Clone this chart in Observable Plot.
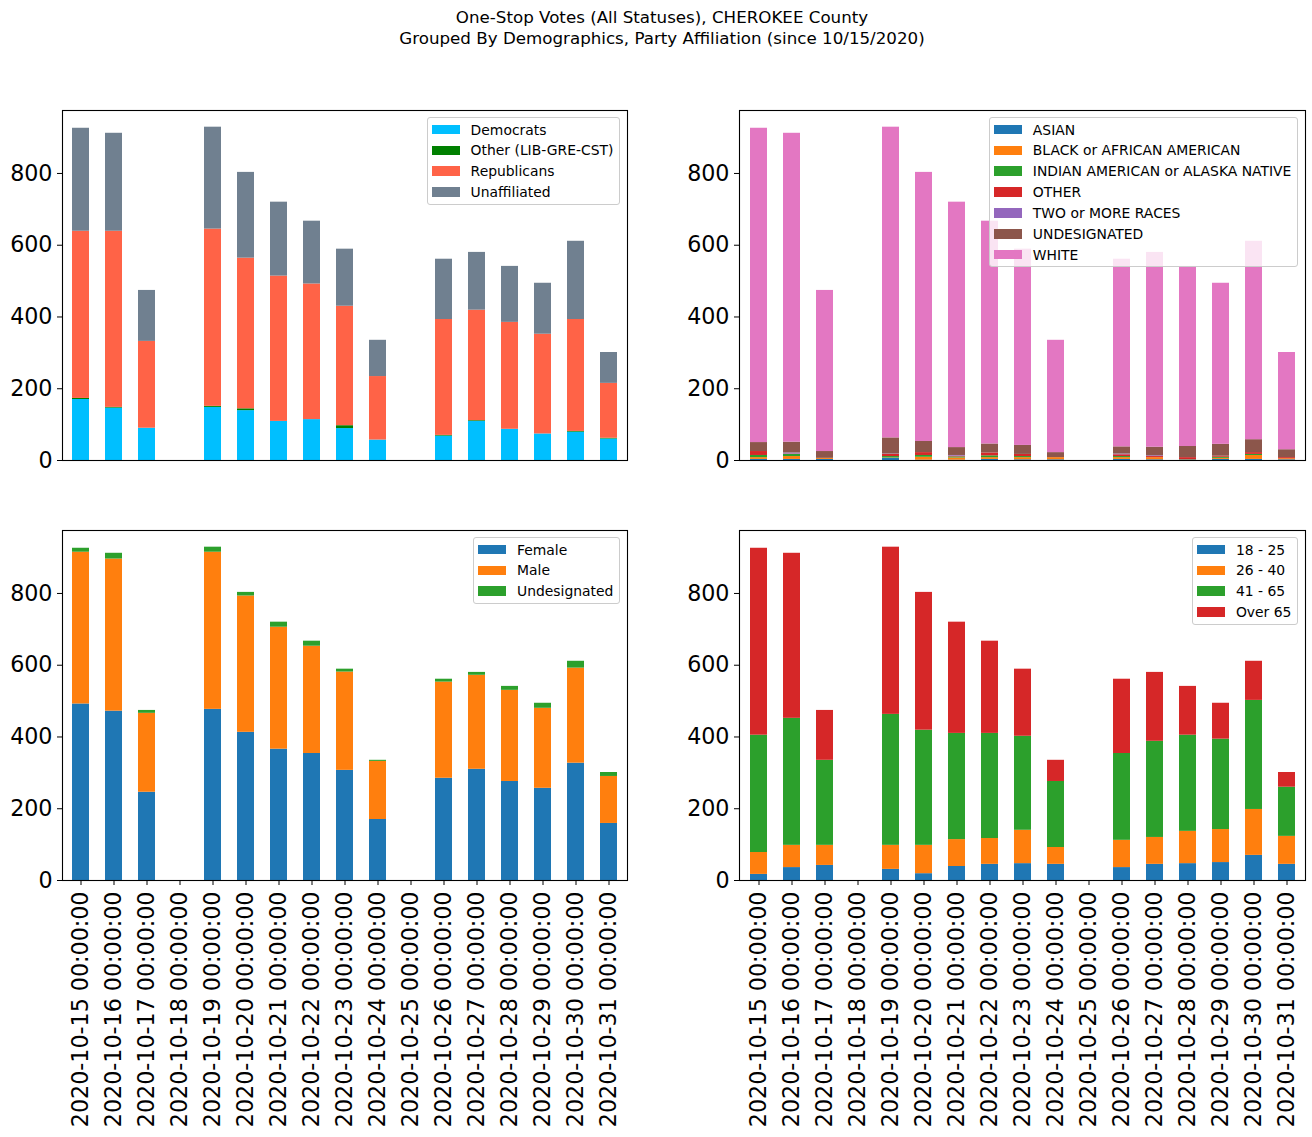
<!DOCTYPE html>
<html>
<head>
<meta charset="utf-8">
<script src="https://cdn.jsdelivr.net/npm/d3@7"></script>
<script src="https://cdn.jsdelivr.net/npm/@observablehq/plot@0.6"></script>
<style>
  html, body { margin: 0; padding: 0; background: white; }
  #fig { position: relative; width: 1312px; height: 1137px; background: white; font-family: "DejaVu Sans", sans-serif; overflow: hidden; }
  .title { position: absolute; left: 0; width: 1324px; text-align: center; font-size: 16.7px; line-height: 21px; top: 7px; color: black; }
  .panel { position: absolute; }
  .legend { position: absolute; background: rgba(255,255,255,0.8); border: 1px solid #cccccc; border-radius: 3px; padding: 4.6px 5.6px 4.6px 4px; font-size: 13.9px; color: black; }
  .row { display: flex; align-items: center; height: 13.9px; margin-bottom: 6.95px; white-space: nowrap; }
  .row:last-child { margin-bottom: 0; }
  .sw { width: 27.8px; height: 9.7px; margin-right: 11.1px; flex: none; }
</style>
</head>
<body>
<div id="fig">
  <div class="title">One-Stop Votes (All Statuses), CHEROKEE County<br>Grouped By Demographics, Party Affiliation (since 10/15/2020)</div>
</div>
<script>
// ---------- data ----------
const dates = [
  "2020-10-15 00:00:00","2020-10-16 00:00:00","2020-10-17 00:00:00","2020-10-18 00:00:00",
  "2020-10-19 00:00:00","2020-10-20 00:00:00","2020-10-21 00:00:00","2020-10-22 00:00:00",
  "2020-10-23 00:00:00","2020-10-24 00:00:00","2020-10-25 00:00:00","2020-10-26 00:00:00",
  "2020-10-27 00:00:00","2020-10-28 00:00:00","2020-10-29 00:00:00","2020-10-30 00:00:00",
  "2020-10-31 00:00:00"
];

// Party affiliation
const partyNames = ["Democrats", "Other (LIB-GRE-CST)", "Republicans", "Unaffiliated"];
const partyColors = ["#00bfff", "#008000", "#ff6347", "#708090"];
const democrats    = [170,146, 90,0,148,139,109,114, 89, 57,0, 68,109, 87, 74, 79, 60];
const otherParty   = [  3,  2,  0,0,  3,  5,  0,  0,  8,  0,0,  2,  2,  0,  0,  2,  2];
const republicans  = [466,491,242,0,494,420,405,378,333,177,0,323,308,298,278,312,153];
const unaffiliated = [287,273,142,0,284,239,206,175,159,101,0,168,161,156,142,218, 86];

// Race
const raceNames = ["ASIAN", "BLACK or AFRICAN AMERICAN", "INDIAN AMERICAN or ALASKA NATIVE", "OTHER", "TWO or MORE RACES", "UNDESIGNATED", "WHITE"];
const raceColors = ["#1f77b4", "#ff7f0e", "#2ca02c", "#d62728", "#9467bd", "#8c564b", "#e377c2"];
const asian      = [  3,  3,  3,0,  6,  1,  1,  3,  2,  2,0,  3,  2,  1,  3,  3,  2];
const black      = [  5,  8,  3,0,  1,  8,  6,  5,  6,  6,0,  5,  6,  0,  3, 11,  3];
const indian     = [  6,  6,  0,0,  4,  5,  3,  5,  3,  0,0,  3,  0,  1,  3,  3,  0];
const otherRace  = [ 11,  1,  0,0,  6,  8,  2,  8,  6,  0,0,  5,  3,  6,  3,  5,  3];
const twoOrMore  = [  0,  3,  0,0,  1,  0,  2,  0,  0,  0,0,  2,  2,  0,  0,  0,  0];
const undRace    = [ 25, 30, 19,0, 45, 31, 22, 25, 25, 14,0, 20, 24, 31, 33, 36, 22];
const white      = [876,861,449,0,866,750,684,621,547,313,0,523,543,502,449,553,271];

// Gender
const genderNames = ["Female", "Male", "Undesignated"];
const genderColors = ["#1f77b4", "#ff7f0e", "#2ca02c"];
const female      = [492,472,246,0,477,413,366,354,307,170,0,285,310,276,257,327,159];
const male        = [423,424,220,0,438,380,340,299,274,162,0,268,262,254,223,265,131];
const undGender   = [ 11, 16,  8,0, 14, 10, 14, 14,  8,  3,0,  8,  8, 11, 14, 19, 11];

// Age
const ageNames = ["18 - 25", "26 - 40", "41 - 65", "Over 65"];
const ageColors = ["#1f77b4", "#ff7f0e", "#2ca02c", "#d62728"];
const age18 = [ 17, 36, 42,0, 31, 19, 39, 45, 47, 45,0, 36, 45, 47, 50, 70, 45];
const age26 = [ 61, 62, 56,0, 67, 79, 75, 72, 93, 47,0, 76, 75, 90, 92,128, 78];
const age41 = [327,354,237,0,365,321,296,293,262,184,0,242,268,268,252,304,137];
const age65 = [521,460,139,0,466,384,310,257,187, 59,0,207,192,136,100,109, 41];

const yTicks = [0, 200, 400, 600, 800];

// ---------- drawing ----------
const fig = document.getElementById("fig");

function tidy(names, arrays) {
  const out = [];
  names.forEach((n, i) => arrays[i].forEach((v, j) => out.push({date: dates[j], series: n, value: v})));
  return out;
}

function panel(cfg) {
  const data = tidy(cfg.names, cfg.arrays);
  const marks = [
    Plot.barY(data, {x: "date", y: "value", fill: "series", inset: 0}),
    Plot.axisY({ticks: yTicks, tickSize: 5, tickPadding: 5, fontSize: 22.2, label: null}),
  ];
  if (cfg.xAxis) {
    marks.push(Plot.axisX({tickRotate: -90, tickSize: 5, tickPadding: 6, fontSize: 22.2, label: null}));
  }
  marks.push(Plot.frame({stroke: "black", strokeWidth: 1.1}));
  const svg = Plot.plot({
    width: cfg.width, height: cfg.height,
    marginLeft: cfg.mL, marginRight: cfg.mR, marginTop: cfg.mT, marginBottom: cfg.mB,
    style: {fontFamily: "DejaVu Sans", fontSize: "22px", color: "black", background: "white", overflow: "visible"},
    x: {type: "band", domain: dates, paddingInner: 0.5, paddingOuter: 0.25, align: 0.5, axis: cfg.xAxis ? undefined : null},
    y: {domain: [0, 975.5]},
    color: {domain: cfg.names, range: cfg.colors},
    marks
  });
  const wrap = document.createElement("div");
  wrap.className = "panel";
  wrap.style.left = cfg.left + "px";
  wrap.style.top = cfg.top + "px";
  wrap.appendChild(svg);
  fig.appendChild(wrap);

  // legend (matplotlib-style, upper right)
  const axRight = cfg.left + cfg.width - cfg.mR;
  const axTop = cfg.top + cfg.mT;
  const lg = document.createElement("div");
  lg.className = "legend";
  lg.style.right = (1312 - (axRight - 7)) + "px";
  lg.style.top = (axTop + 7) + "px";
  cfg.names.forEach((n, i) => {
    const r = document.createElement("div");
    r.className = "row";
    const s = document.createElement("div");
    s.className = "sw";
    s.style.background = cfg.colors[i];
    const t = document.createElement("span");
    t.textContent = n;
    r.appendChild(s); r.appendChild(t);
    lg.appendChild(r);
  });
  fig.appendChild(lg);
}

panel({names: partyNames, colors: partyColors, arrays: [democrats, otherParty, republicans, unaffiliated],
  left: 0, top: 100, width: 640, height: 370, mL: 62, mR: 13, mT: 10, mB: 10, xAxis: false});
panel({names: raceNames, colors: raceColors, arrays: [asian, black, indian, otherRace, twoOrMore, undRace, white],
  left: 660, top: 100, width: 652, height: 370, mL: 79, mR: 7, mT: 10, mB: 10, xAxis: false});
panel({names: genderNames, colors: genderColors, arrays: [female, male, undGender],
  left: 0, top: 520, width: 640, height: 617, mL: 62, mR: 13, mT: 10, mB: 257, xAxis: true});
panel({names: ageNames, colors: ageColors, arrays: [age18, age26, age41, age65],
  left: 660, top: 520, width: 652, height: 617, mL: 79, mR: 7, mT: 10, mB: 257, xAxis: true});
</script>
</body>
</html>
